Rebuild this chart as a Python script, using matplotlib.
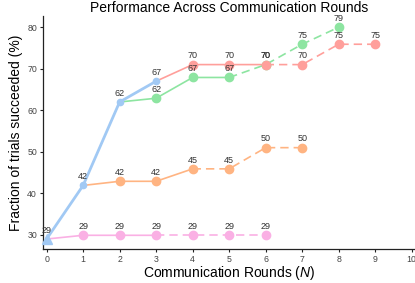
import matplotlib
matplotlib.use("Agg")
import matplotlib.pyplot as plt

plt.rcParams['font.family'] = ['Liberation Sans', 'DejaVu Sans']
plt.rcParams['mathtext.fontset'] = 'custom'
plt.rcParams['mathtext.rm'] = 'Liberation Sans'
plt.rcParams['mathtext.it'] = 'Liberation Sans:italic'

# Data
blue_x = [0, 1, 2, 3]
blue_y = [29.0, 41.9, 62.0, 67.0]
blue_labels = ["29", "42", "62", "67"]

orange_x = [1, 2, 3, 4, 5, 6, 7]
orange_y = [41.9, 42.9, 42.9, 45.9, 45.9, 51.0, 51.0]
orange_labels = ["42", "42", "45", "45", "50", "50"]
orange_solid_end = 4

green_x = [2, 3, 4, 5, 6, 7, 8]
green_y = [62.0, 62.9, 67.9, 67.9, 71.0, 75.9, 80.0]
green_labels = ["62", "67", "67", "70", "75", "79"]
green_solid_end = 5

red_x = [3, 4, 5, 6, 7, 8, 9]
red_y = [67.0, 71.0, 71.0, 71.0, 71.0, 75.9, 75.9]
red_labels = ["70", "70", "70", "70", "75", "75"]
red_solid_end = 6

pink_x = [0, 1, 2, 3, 4, 5, 6]
pink_y = [29.0, 29.9, 29.9, 29.9, 29.9, 29.9, 29.9]
pink_labels = ["29", "29", "29", "29", "29", "29"]
pink_solid_end = 3

x_ticks = [0, 1, 2, 3, 4, 5, 6, 7, 8, 9, 10]
y_ticks = [30, 40, 50, 60, 70, 80]

colors = {
    'blue': '#a1c9f4', 'orange': '#ffb482', 'green': '#8de5a1',
    'red': '#ff9f9b', 'pink': '#fab0e4',
}

fig = plt.figure(figsize=(4.15, 2.83), dpi=100)
ax = fig.add_axes([43.3 / 415, 1 - 249 / 283, 1 - 43.3 / 415, (249 - 16) / 283])

def annotate(xs, ys, labels):
    for x, y, t in zip(xs, ys, labels):
        ax.annotate(t, (x, y), xytext=(0, 4.5), textcoords='offset points',
                    ha='center', va='baseline', fontsize=6.5, color='#333333', zorder=5)

def branch(xs, ys, labels, solid_end, color):
    k = xs.index(solid_end)
    ax.plot(xs[:k + 1], ys[:k + 1], color=color, lw=1.2, zorder=2)
    ax.plot(xs[k:], ys[k:], color=color, lw=1.2, ls=(0, (5, 3)), zorder=2)
    ax.plot(xs[1:], ys[1:], 'o', color=color, ms=6, zorder=3)
    annotate(xs[1:], ys[1:], labels)

branch(pink_x, pink_y, pink_labels, pink_solid_end, colors['pink'])
branch(orange_x, orange_y, orange_labels, orange_solid_end, colors['orange'])
branch(green_x, green_y, green_labels, green_solid_end, colors['green'])
branch(red_x, red_y, red_labels, red_solid_end, colors['red'])

ax.plot(blue_x, blue_y, color=colors['blue'], lw=2.0, zorder=4)
ax.plot(blue_x[1:], blue_y[1:], 'o', color=colors['blue'], ms=4.5, zorder=4)
ax.plot(blue_x[:1], blue_y[:1], '^', color=colors['blue'], ms=6.5, zorder=4, clip_on=False)
annotate(blue_x, blue_y, blue_labels)

ax.set_xlim(-0.09, 10.09)
ax.set_ylim(26.6, 82.7)
ax.set_xticks(x_ticks)
ax.set_yticks(y_ticks)
ax.tick_params(labelsize=6.3, colors='#222222', labelcolor='#444444', length=2.5, width=0.8, pad=2)
for s in ['top', 'right']:
    ax.spines[s].set_visible(False)
for s in ['left', 'bottom']:
    ax.spines[s].set_linewidth(0.9)
    ax.spines[s].set_color('#222222')

ax.set_title("Performance Across Communication Rounds", fontsize=10, pad=3)
ax.set_xlabel("Communication Rounds ($N$)", fontsize=10, labelpad=0)
ax.set_ylabel("Fraction of trials succeeded (%)", fontsize=10, labelpad=3)

fig.savefig("out.png", dpi=100)
